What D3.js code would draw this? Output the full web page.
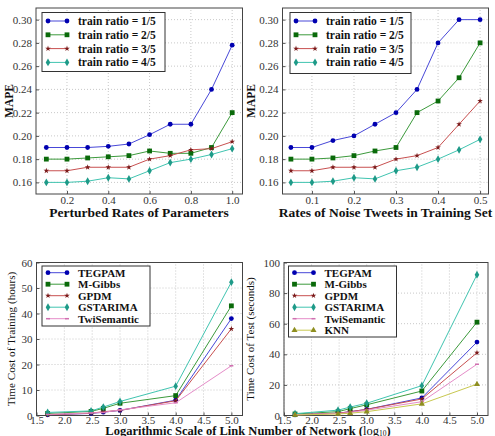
<!DOCTYPE html>
<html>
<head>
<script src="https://d3js.org/d3.v7.min.js"></script>
<style>
    body { margin: 0; background: #fff; }
    svg { font-family: "Liberation Serif", serif; }
    .tick text { fill: #333; font-size: 11px; }
    .grid line { stroke: #c8c8c8; stroke-dasharray: 1,2; }
    .lbl { font-weight: bold; fill: #111; }
</style>
</head>
<body>
<script>
// ---- data ----
var perturbRates = [0.1, 0.2, 0.3, 0.4, 0.5, 0.6, 0.7, 0.8, 0.9, 1.0];
var noiseRates = [0.05, 0.1, 0.15, 0.2, 0.25, 0.3, 0.35, 0.4, 0.45, 0.5];
var ratioNames = ["train ratio = 1/5", "train ratio = 2/5", "train ratio = 3/5", "train ratio = 4/5"];

var perturbR1 = [0.19, 0.19, 0.19, 0.191, 0.193, 0.201, 0.21, 0.21, 0.24, 0.278];
var perturbR2 = [0.18, 0.18, 0.181, 0.182, 0.183, 0.187, 0.185, 0.185, 0.19, 0.22];
var perturbR3 = [0.17, 0.17, 0.173, 0.173, 0.173, 0.18, 0.183, 0.188, 0.189, 0.195];
var perturbR4 = [0.16, 0.16, 0.161, 0.164, 0.163, 0.17, 0.177, 0.18, 0.184, 0.189];

var noiseR1 = [0.19, 0.19, 0.196, 0.20, 0.21, 0.22, 0.24, 0.28, 0.30, 0.30];
var noiseR2 = [0.18, 0.18, 0.181, 0.183, 0.187, 0.19, 0.22, 0.23, 0.25, 0.28];
var noiseR3 = [0.17, 0.17, 0.173, 0.173, 0.173, 0.18, 0.183, 0.19, 0.21, 0.23];
var noiseR4 = [0.16, 0.16, 0.161, 0.164, 0.163, 0.17, 0.173, 0.18, 0.188, 0.197];

var linkScale = [1.7, 2.48, 2.7, 3.0, 4.0, 5.0];
var methodNames = ["TEGPAM", "M-Gibbs", "GPDM", "GSTARIMA", "TwiSemantic", "KNN"];

var trainTegpam = [0.3, 0.8, 1.3, 2.0, 6.0, 38.0];
var trainGibbs = [0.8, 1.6, 2.8, 4.8, 7.8, 43.0];
var trainGpdm = [0.3, 0.9, 1.5, 2.0, 5.8, 34.0];
var trainGstarima = [1.2, 1.8, 3.3, 5.5, 11.5, 52.3];
var trainTwi = [0.4, 1.0, 1.2, 2.2, 5.0, 19.5];

var testTegpam = [0.5, 1.5, 2.5, 4.0, 11.5, 48.0];
var testGibbs = [1.0, 2.5, 4.5, 7.0, 16.0, 61.0];
var testGpdm = [0.5, 1.5, 2.5, 4.0, 10.8, 41.0];
var testGstarima = [1.2, 3.5, 5.5, 8.0, 19.5, 92.0];
var testTwi = [0.5, 1.3, 2.0, 3.5, 9.0, 33.5];
var testKnn = [0.3, 1.0, 1.5, 2.5, 7.6, 20.5];

// series styles (colour of line, colour of marker, marker shape)
var styles = [
    {line: "#4848d8", mark: "#0000b0", shape: "circle"},
    {line: "#3c9a3c", mark: "#0a6a0a", shape: "square"},
    {line: "#c85050", mark: "#7a1a1a", shape: "star"},
    {line: "#40c4b0", mark: "#1e9a88", shape: "diamond"},
    {line: "#e58cc8", mark: "#d070b0", shape: "cross"},
    {line: "#c8c850", mark: "#8e8e20", shape: "triangle"}
];

var W = 495, H = 436;
var svg = d3.select("body").append("svg").attr("width", W).attr("height", H);

function drawMarker(g, s, x, y) {
    if (s.shape == "circle") {
        g.append("circle").attr("cx", x).attr("cy", y).attr("r", 2.4).attr("fill", s.mark);
    } else if (s.shape == "square") {
        g.append("rect").attr("x", x - 2.4).attr("y", y - 2.4).attr("width", 4.8).attr("height", 4.8).attr("fill", s.mark);
    } else if (s.shape == "star") {
        g.append("path").attr("d", d3.symbol(d3.symbolStar, 10)()).attr("transform", "translate(" + x + "," + y + ")").attr("fill", s.mark);
    } else if (s.shape == "diamond") {
        g.append("path").attr("d", d3.symbol(d3.symbolDiamond, 18)()).attr("transform", "translate(" + x + "," + y + ")").attr("fill", s.mark);
    } else if (s.shape == "triangle") {
        g.append("path").attr("d", d3.symbol(d3.symbolTriangle, 16)()).attr("transform", "translate(" + x + "," + y + ")").attr("fill", s.mark);
    } else {
        g.append("path").attr("d", "M" + (x - 2) + "," + y + "H" + (x + 2)).attr("stroke", s.mark).attr("stroke-width", 1.5);
    }
}

function panel(p) {
    var x = d3.scaleLinear().domain(p.xDomain).range(p.xRange);
    var y = d3.scaleLinear().domain(p.yDomain).range(p.yRange);
    var g = svg.append("g");

    // grid
    g.append("g").attr("class", "grid")
        .selectAll("line.v").data(p.xTicks).enter().append("line")
        .attr("x1", d => x(d)).attr("x2", d => x(d))
        .attr("y1", p.yRange[0]).attr("y2", p.yRange[1]);
    g.append("g").attr("class", "grid")
        .selectAll("line.h").data(p.yTicks).enter().append("line")
        .attr("y1", d => y(d)).attr("y2", d => y(d))
        .attr("x1", p.xRange[0]).attr("x2", p.xRange[1]);

    // axes, ticks pointing inwards
    var ax = g.append("g").attr("transform", "translate(0," + p.yRange[0] + ")")
        .call(d3.axisBottom(x).tickValues(p.xTicks).tickFormat(d3.format(".1f")).tickSizeInner(-3).tickSizeOuter(0).tickPadding(p.xPad));
    var ay = g.append("g").attr("transform", "translate(" + p.xRange[0] + ",0)")
        .call(d3.axisLeft(y).tickValues(p.yTicks).tickFormat(p.yFormat).tickSizeInner(-3).tickSizeOuter(0).tickPadding(4));
    ax.selectAll(".domain").remove();
    ay.selectAll(".domain").remove();
    g.selectAll(".tick line").attr("stroke", "#555");
    ax.selectAll("text").attr("font-family", "Liberation Serif");
    ay.selectAll("text").attr("font-family", "Liberation Serif");

    // frame
    g.append("rect").attr("x", p.xRange[0]).attr("y", p.yRange[1])
        .attr("width", p.xRange[1] - p.xRange[0]).attr("height", p.yRange[0] - p.yRange[1])
        .attr("fill", "none").attr("stroke", "#444").attr("stroke-width", 1);

    // lines + markers
    var line = d3.line().x(d => x(d[0])).y(d => y(d[1]));
    p.series.forEach(function(vals, i) {
        var s = styles[p.styleIdx[i]];
        var pts = p.xs.map((v, j) => [v, vals[j]]);
        g.append("path").datum(pts).attr("d", line)
            .attr("fill", "none").attr("stroke", s.line).attr("stroke-width", 1);
        pts.forEach(d => drawMarker(g, s, x(d[0]), y(d[1])));
    });

    // legend
    var L = p.legend;
    var lg = g.append("g");
    lg.append("rect").attr("x", L.x).attr("y", L.y).attr("width", L.w).attr("height", L.h)
        .attr("fill", "#fff").attr("stroke", "#333").attr("stroke-width", 1);
    p.names.forEach(function(n, i) {
        var s = styles[p.styleIdx[i]];
        var yy = L.y + L.top + i * L.step;
        lg.append("line").attr("x1", L.x + 6).attr("x2", L.x + 25).attr("y1", yy).attr("y2", yy)
            .attr("stroke", s.line).attr("stroke-width", 1);
        drawMarker(lg, s, L.x + 6, yy);
        drawMarker(lg, s, L.x + 25, yy);
        lg.append("text").attr("x", L.x + 36).attr("y", yy).attr("dy", "0.35em")
            .attr("font-size", L.fs).attr("font-weight", "bold").attr("fill", "#111").text(n);
    });

    // y label
    g.append("text").attr("transform", "translate(" + p.yLabelX + "," + (p.yRange[0] + p.yRange[1]) / 2 + ") rotate(-90)")
        .attr("text-anchor", "middle").attr("dy", "0.35em")
        .attr("font-size", p.yLabelSize).attr("font-weight", p.yLabelWeight).attr("fill", "#111")
        .text(p.yLabel);
    if (p.xLabel) {
        g.append("text").attr("x", p.xLabelX).attr("y", p.xLabelY).attr("text-anchor", "middle")
            .attr("class", "lbl").attr("font-size", 13.5).text(p.xLabel);
    }
}

var mapeTicks = [0.16, 0.18, 0.20, 0.22, 0.24, 0.26, 0.28, 0.30];
var fmt2 = d3.format(".2f");

panel({
    xDomain: [0.05, 1.05], xRange: [36, 242.5], yDomain: [0.15, 0.31], yRange: [194, 8],
    xTicks: [0.2, 0.4, 0.6, 0.8, 1.0], yTicks: mapeTicks, yFormat: fmt2, xPad: 2,
    xs: perturbRates, series: [perturbR1, perturbR2, perturbR3, perturbR4], styleIdx: [0, 1, 2, 3],
    names: ratioNames,
    legend: {x: 42, y: 12.5, w: 123, h: 59, top: 8.5, step: 13.8, fs: 11.5},
    yLabel: "MAPE", yLabelX: 9, yLabelSize: 11.5, yLabelWeight: "bold",
    xLabel: "Perturbed Rates of Parameters", xLabelX: 139, xLabelY: 217
});

panel({
    xDomain: [0.03, 0.52], xRange: [282.5, 488.5], yDomain: [0.15, 0.31], yRange: [194, 8],
    xTicks: [0.1, 0.2, 0.3, 0.4, 0.5], yTicks: mapeTicks, yFormat: fmt2, xPad: 2,
    xs: noiseRates, series: [noiseR1, noiseR2, noiseR3, noiseR4], styleIdx: [0, 1, 2, 3],
    names: ratioNames,
    legend: {x: 290, y: 12.5, w: 121, h: 61, top: 8.5, step: 13.8, fs: 11.5},
    yLabel: "MAPE", yLabelX: 251, yLabelSize: 11.5, yLabelWeight: "bold",
    xLabel: "Rates of Noise Tweets in Training Set", xLabelX: 385.5, xLabelY: 217
});

panel({
    xDomain: [1.5, 5.2], xRange: [36.5, 242.5], yDomain: [0, 60], yRange: [415.5, 262.5],
    xTicks: [1.5, 2.0, 2.5, 3.0, 3.5, 4.0, 4.5, 5.0], yTicks: [0, 10, 20, 30, 40, 50, 60], yFormat: d3.format("d"), xPad: 0.5,
    xs: linkScale, series: [trainTegpam, trainGibbs, trainGpdm, trainGstarima, trainTwi], styleIdx: [0, 1, 2, 3, 4],
    names: methodNames.slice(0, 5),
    legend: {x: 42, y: 266, w: 108, h: 60, top: 6.7, step: 11.5, fs: 11},
    yLabel: "Time Cost of Training (hours)", yLabelX: 11, yLabelSize: 11.2, yLabelWeight: "normal"
});

panel({
    xDomain: [1.5, 5.2], xRange: [284, 488], yDomain: [0, 100], yRange: [415.5, 262.5],
    xTicks: [1.5, 2.0, 2.5, 3.0, 3.5, 4.0, 4.5, 5.0], yTicks: [0, 20, 40, 60, 80, 100], yFormat: d3.format("d"), xPad: 0.5,
    xs: linkScale, series: [testTegpam, testGibbs, testGpdm, testGstarima, testTwi, testKnn], styleIdx: [0, 1, 2, 3, 4, 5],
    names: methodNames,
    legend: {x: 288.5, y: 266, w: 108, h: 71, top: 6.7, step: 11.5, fs: 11},
    yLabel: "Time Cost of Test (seconds)", yLabelX: 250, yLabelSize: 11, yLabelWeight: "normal"
});

// shared x label of the bottom row
var bl = svg.append("text").attr("x", 248).attr("y", 434.5).attr("text-anchor", "middle")
    .attr("class", "lbl").attr("font-size", 12.5);
bl.append("tspan").text("Logarithmic Scale of Link Number of Network (");
bl.append("tspan").attr("font-weight", "normal").text("log");
bl.append("tspan").attr("font-weight", "normal").attr("font-size", 7.5).attr("dy", 1.5).text("10");
bl.append("tspan").attr("dy", -1.5).text(")");
</script>
</body>
</html>
